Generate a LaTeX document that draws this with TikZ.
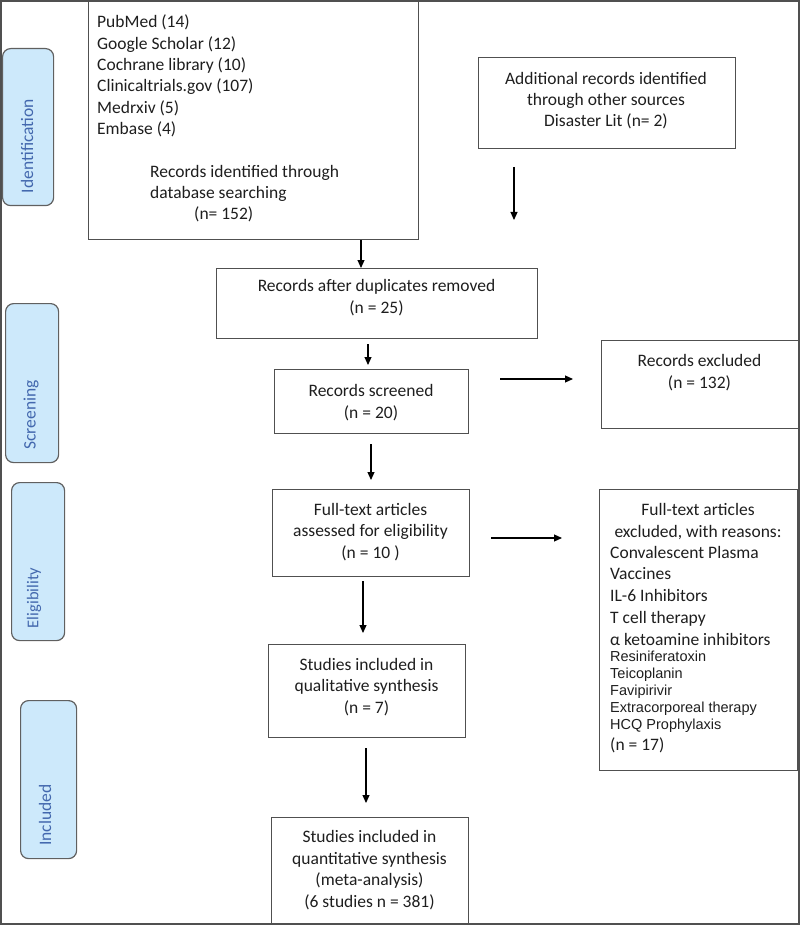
\documentclass[tikz,border=0pt]{standalone}
\usepackage{fontspec}
\setmainfont{Carlito}
\newfontfamily\arialf{Liberation Sans}
\usetikzlibrary{arrows.meta,calc}
\definecolor{boxline}{HTML}{505050}
\definecolor{sidefill}{HTML}{CDE9FB}
\definecolor{sideline}{HTML}{606060}
\definecolor{sidetext}{HTML}{4368AE}
\definecolor{txt}{HTML}{1E1E1E}
\begin{document}
\begin{tikzpicture}[x=1pt,y=-1pt,
  box/.style={draw=boxline, line width=1.2pt, inner sep=0, anchor=north west},
  side/.style={draw=sideline, fill=sidefill, rounded corners=8pt, line width=1.2pt, anchor=north west, inner sep=0},
  sidelbl/.style={rotate=90, text=sidetext, font=\fontsize{17.5}{20}\selectfont, inner sep=0},
  txtn/.style={text=txt, font=\fontsize{17.5}{21.3}\selectfont, inner sep=0, align=center, anchor=base},
  txtl/.style={text=txt, font=\fontsize{17.5}{21.5}\selectfont, inner sep=0, align=left, anchor=base west},
  smalll/.style={text=txt, font=\arialf\fontsize{14.5}{16.8}\selectfont, inner sep=0, align=left, anchor=base west},
  arr/.style={-{Triangle[length=8pt,width=7pt]}, line width=1.1pt, black},
]
\useasboundingbox (0,0) rectangle (800,925);
\draw[line width=1.2pt, draw=boxline] (1,1) rectangle (799,924);

% side labels
\node[side, minimum width=51, minimum height=157] (sid) at (2,48) {};
\node[side, minimum width=53, minimum height=159] (sscr) at (5,303) {};
\node[side, minimum width=53, minimum height=158] (selig) at (11,482) {};
\node[side, minimum width=56, minimum height=158] (sinc) at (20,700) {};
\node[sidelbl] (tid) at (27,146) {Identification};
\node[sidelbl] (tscr) at (31,415) {Screening};
\node[sidelbl, font=\fontsize{16.5}{20}\selectfont] (telig) at (34,598) {Eligibility};
\node[sidelbl] (tinc) at (45,815) {Included};

% boxes
\node[box, minimum width=330, minimum height=238] (db) at (88,1) {};
\node[box, minimum width=257, minimum height=91] (add) at (478,57) {};
\node[box, minimum width=321, minimum height=70] (dup) at (216,268) {};
\node[box, minimum width=194, minimum height=64] (scr) at (274,369) {};
\node[box, minimum width=197, minimum height=88] (exc) at (601,340) {};
\node[box, minimum width=197, minimum height=87] (ft) at (272,489) {};
\node[box, minimum width=198, minimum height=281] (ex2) at (599,489) {};
\node[box, minimum width=197, minimum height=93] (qual) at (268,644) {};
\node[box, minimum width=197, minimum height=107] (quant) at (271,817) {};

% texts (anchor = baseline of the last line)
\node[txtl, font=\fontsize{17.5}{21.3}\selectfont] (dblist) at (97,134.5) {PubMed (14)\\Google Scholar (12)\\Cochrane library (10)\\Clinicaltrials.gov (107)\\Medrxiv (5)\\Embase (4)};
\node[txtl, font=\fontsize{17.5}{21}\selectfont] (dbtail) at (150,220) {Records identified through\\database searching\\\hspace*{44pt}(n= 152)};
\node[txtn] (addt) at (606,127) {Additional records identified\\through other sources\\Disaster Lit (n= 2)};
\node[txtn] (dupt) at (376.5,313) {Records after duplicates removed\\(n = 25)};
\node[txtn] (scrt) at (371,418) {Records screened\\(n = 20)};
\node[txtn] (exct) at (699.5,388) {Records excluded\\(n = 132)};
\node[txtn] (ftt) at (370.5,558) {Full-text articles\\assessed for eligibility\\(n = 10 )};
\node[txtn] (ex2h) at (698,537) {Full-text articles\\excluded, with reasons:};
\node[txtl, font=\fontsize{17.5}{21.7}\selectfont] (ex2a) at (610,645) {Convalescent Plasma\\Vaccines\\IL-6 Inhibitors\\T cell therapy\\α ketoamine inhibitors};
\node[smalll] (ex2b) at (610,729) {Resiniferatoxin\\Teicoplanin\\Favipirivir\\Extracorporeal therapy\\HCQ Prophylaxis};
\node[txtl] (ex2n) at (610,750) {(n = 17)};
\node[txtn] (qualt) at (366.5,713) {Studies included in\\qualitative synthesis\\(n = 7)};
\node[txtn, font=\fontsize{17.5}{21.5}\selectfont] (quantt) at (369.5,907) {Studies included in\\quantitative synthesis\\(meta-analysis)\\(6 studies n = 381)};

% arrows
\coordinate (c1) at (361,0);
\coordinate (c3) at (368,0);
\coordinate (c5) at (371,0);
\coordinate (c7) at (363,0);
\coordinate (c8) at (366,0);
\coordinate (r4) at (0,379);
\coordinate (r6) at (0,538);
\coordinate (a2s) at (514,167);
\coordinate (a2e) at (514,220);
\draw[arr] (db.south -| c1) -- (dup.north -| c1);
\draw[arr] (a2s) -- (a2e);
\draw[arr, shorten <=5pt, shorten >=4pt] (dup.south -| c3) -- (scr.north -| c3);
\draw[arr, shorten <=31pt, shorten >=28pt] (scr.east |- r4) -- (exc.west |- r4);
\draw[arr, shorten <=10pt, shorten >=9pt] (scr.south -| c5) -- (ft.north -| c5);
\draw[arr, shorten <=21pt, shorten >=37pt] (ft.east |- r6) -- (ex2.west |- r6);
\draw[arr, shorten <=4pt, shorten >=11pt] (ft.south -| c7) -- (qual.north -| c7);
\draw[arr, shorten <=10pt, shorten >=14pt] (qual.south -| c8) -- (quant.north -| c8);
\end{tikzpicture}
\end{document}
